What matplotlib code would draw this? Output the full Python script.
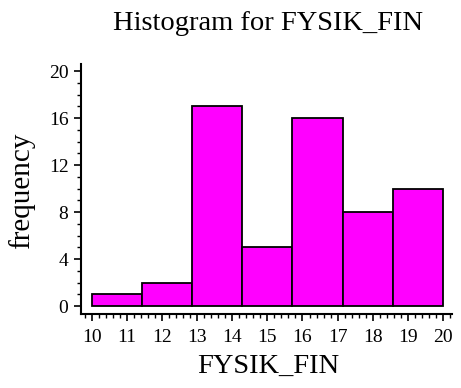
import numpy as np
import matplotlib.pyplot as plt
from matplotlib.ticker import MultipleLocator

# bin edges and counts for FYSIK_FIN
bin_edges = np.linspace(10, 20, 8)
counts = [1, 2, 17, 5, 16, 8, 10]

plt.rcParams['font.family'] = ['Liberation Serif', 'DejaVu Serif']

fig = plt.figure(figsize=(4.61, 3.88), dpi=100)
ax = fig.add_axes([0.1757, 0.1907, 0.8048, 0.6443])

ax.bar(bin_edges[:-1], counts, width=np.diff(bin_edges), align='edge',
       color='#ff00ff', edgecolor='black', linewidth=1.3)

ax.set_xlim(9.69, 20.26)
ax.set_ylim(-0.68, 20.6)

ax.spines['top'].set_visible(False)
ax.spines['right'].set_visible(False)
ax.spines['left'].set_linewidth(1.5)
ax.spines['bottom'].set_linewidth(1.5)

ax.xaxis.set_major_locator(MultipleLocator(1))
ax.xaxis.set_minor_locator(MultipleLocator(0.2))
ax.yaxis.set_major_locator(MultipleLocator(4))
ax.yaxis.set_minor_locator(MultipleLocator(1))
ax.tick_params(which='major', length=5, width=1.2, labelsize=14, direction='out')
ax.tick_params(axis='x', which='major', pad=6)
ax.tick_params(axis='y', which='major', pad=4)
ax.tick_params(which='minor', length=3, width=1.0, direction='out')
ax.set_xticks(np.arange(10, 21))
ax.set_yticks(np.arange(0, 21, 4))

fig.text(268 / 461, 1 - 366 / 388, 'FYSIK_FIN', ha='center', va='center', fontsize=20.5)
fig.text(22 / 461, 1 - 191 / 388, 'frequency', ha='center', va='center',
         rotation=90, fontsize=21)
fig.text(268 / 461, 1 - 23 / 388, 'Histogram for FYSIK_FIN', ha='center',
         va='center', fontsize=20.5)

fig.savefig('out.png', dpi=100)
